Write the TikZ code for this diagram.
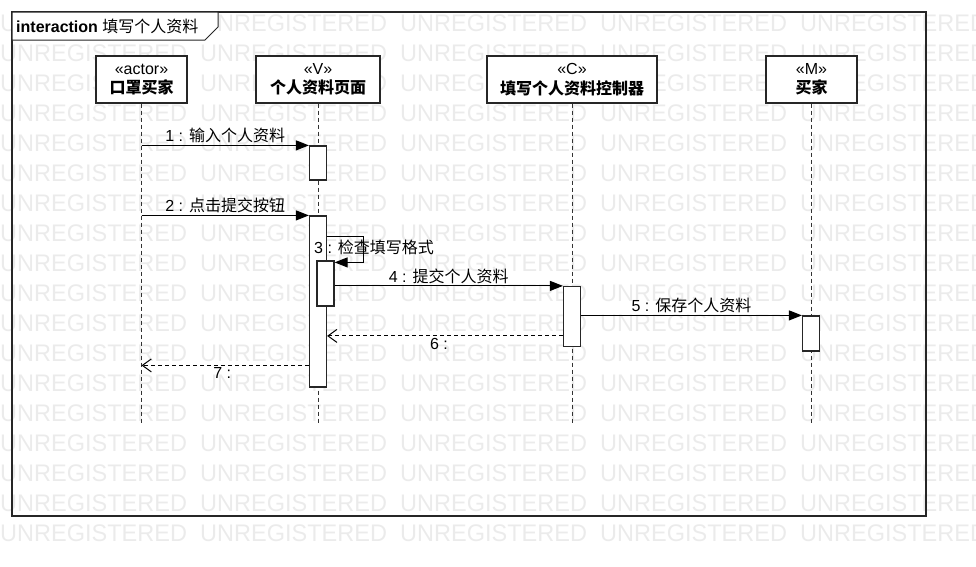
\documentclass[tikz,border=0pt]{standalone}
\usepackage{fontspec}
\setmainfont{Liberation Sans}
\newfontfamily\cjk{Noto Sans CJK SC}
\usetikzlibrary{arrows.meta}

\begin{document}
\begin{tikzpicture}[x=1pt, y=-1pt,
  marca/.style={anchor=base west, text=black!8, inner sep=0, font=\fontsize{24}{24}\selectfont},
  cabeca/.style={draw=black!85, line width=1.2pt, fill=white, minimum height=47pt, inner sep=0, align=center, font=\fontsize{16}{19.5}\selectfont},
  vida/.style={black!80, line width=0.9pt, dash pattern=on 4pt off 3pt},
  ativ/.style={draw=black!85, line width=1.2pt, fill=white, minimum width=17pt, inner sep=0},
  msg/.style={-{Triangle[length=13pt,width=10pt]}, line width=1pt},
  ret/.style={-{Straight Barb[length=9pt,width=13pt]}, line width=1pt, dash pattern=on 4pt off 3pt},
  rot/.style={inner sep=2pt, font=\fontsize{16}{16}\selectfont}]
  \useasboundingbox (0,0) rectangle (976,566);
  \clip (0,0) rectangle (976,566);

  % marca d'agua de fundo
  \foreach \r in {0,...,17} {
    \foreach \c in {0,...,4} {
      \node[marca] at (\c*200, 31+\r*30) {\scalebox{0.98}[1]{UNREGISTERED}};
    }
  }

  % moldura da interacao
  \draw[line width=1.3pt, black!85] (12,12) rectangle (926,516);
  \draw[line width=1pt, black!85, fill=white] (12,12) -- (218,12) -- (218,27) -- (205,40) -- (12,40) -- cycle;
  \node[anchor=west, inner sep=0, font=\fontsize{16}{16}\selectfont] (titulo) at (16,26)
    {\textbf{interaction} {\cjk 填写个人资料}};

  % cabecas das linhas de vida
  \node[cabeca, minimum width=91pt]  (ator)  at (141.5,79.5) {«actor»\\{\bfseries\cjk 口罩买家}};
  \node[cabeca, minimum width=124pt] (pag)   at (318,79.5)   {«V»\\{\bfseries\cjk 个人资料页面}};
  \node[cabeca, minimum width=170pt] (ctrl)  at (572,79.5)   {«C»\\{\bfseries\cjk 填写个人资料控制器}};
  \node[cabeca, minimum width=91pt]  (comp)  at (811.5,79.5) {«M»\\{\bfseries\cjk 买家}};

  % linhas de vida tracejadas
  \coordinate (fim) at (0,425);
  \foreach \n in {ator,pag,ctrl,comp}
    \draw[vida] (\n.south) -- (\n.south |- fim);

  % barras de ativacao
  \node[ativ, minimum height=34pt] (aV1) at (318,163)   {};
  \node[ativ, minimum height=171pt] (aV2) at (318,301.5) {};
  \node[ativ, minimum height=45pt] (aV3) at (325.5,283.5) {};
  \node[ativ, minimum height=60pt] (aC)  at (572,316.5)   {};
  \node[ativ, minimum height=35pt] (aM)  at (811,333.5)   {};

  % mensagens
  \draw[msg] (ator.south |- aV1.north) -- (aV1.north west)
    node[rot, midway, above] {1 : {\cjk 输入个人资料}};
  \draw[msg] (ator.south |- aV2.north) -- (aV2.north west)
    node[rot, midway, above] {2 : {\cjk 点击提交按钮}};
  % auto-mensagem
  \coordinate (s3) at ([yshift=-21pt]aV2.north east);
  \draw[msg] (s3) -- ++(36,0) |- ([yshift=-2pt]aV3.north east);
  \node[rot, anchor=west] (r3) at (312,247) {3 : {\cjk 检查填写格式}};
  \draw[msg] (aV3.east |- aC.north) -- (aC.north west)
    node[rot, midway, above] {4 : {\cjk 提交个人资料}};
  \draw[msg] (aC.east |- aM.north) -- (aM.north west)
    node[rot, midway, above] {5 : {\cjk 保存个人资料}};
  % retornos
  \coordinate (r6) at ([yshift=-50pt]aC.north west);
  \draw[ret] (r6) -- (aV2.east |- r6)
    node[rot, midway, below, xshift=-6pt] {6 :};
  \coordinate (r7) at ([yshift=-150pt]aV2.north west);
  \draw[ret] (r7) -- (ator.south |- r7)
    node[rot, midway, below, xshift=-3pt] {7 :};
\end{tikzpicture}
\end{document}
